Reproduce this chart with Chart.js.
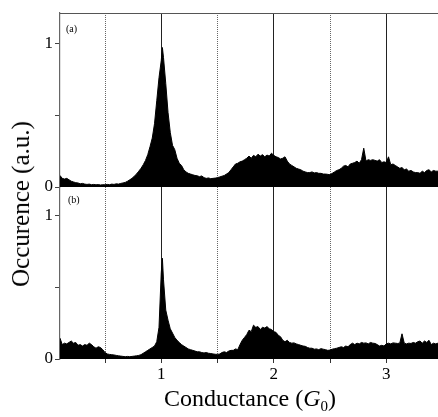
<!DOCTYPE html>
<html>
<head>
<meta charset="utf-8">
<script src="https://cdn.jsdelivr.net/npm/chart.js@4.4.1/dist/chart.umd.min.js"></script>
<style>
  html, body { margin: 0; padding: 0; background: #fff; }
  #wrap { position: relative; width: 438px; height: 417px; overflow: hidden;
          font-family: 'Liberation Serif', 'Times New Roman', serif; color: #000; }
  .panel { position: absolute; left: 0; width: 438px; }
  #pa { top: 0; height: 200px; }
  #pb { top: 187px; height: 230px; }
  .tag { position: absolute; font-size: 10px; }
  .ytitle { position: absolute; left: 21px; top: 204px; transform: translate(-50%, -50%) rotate(-90deg);
            font-size: 25px; white-space: nowrap; }
  .xtitle { position: absolute; left: 250px; top: 400px; transform: translate(-50%, -50%);
            font-size: 24px; white-space: nowrap; }
  .xtitle sub { font-size: 15px; }
</style>
</head>
<body>
<div id="wrap">
  <div class="panel" id="pa"><canvas id="chart-a" width="438" height="200"></canvas></div>
  <div class="panel" id="pb"><canvas id="chart-b" width="438" height="230"></canvas></div>
  <div class="tag" style="left:66px;top:23px">(a)</div>
  <div class="tag" style="left:68px;top:194px">(b)</div>
  <div class="ytitle">Occurence (a.u.)</div>
  <div class="xtitle">Conductance (<i>G</i><sub>0</sub>)</div>
</div>
<script>
// conductance bins (G0)
const conductance = [
  0.10, 0.12, 0.14, 0.16, 0.18, 0.20, 0.22, 0.24, 0.26, 0.28,
  0.30, 0.32, 0.34, 0.36, 0.38, 0.40, 0.42, 0.44, 0.46, 0.48,
  0.50, 0.52, 0.54, 0.56, 0.58, 0.60, 0.62, 0.64, 0.66, 0.68,
  0.70, 0.72, 0.74, 0.76, 0.78, 0.80, 0.82, 0.84, 0.86, 0.88,
  0.90, 0.92, 0.94, 0.96, 0.98, 1.00, 1.01, 1.02, 1.04, 1.06, 1.08,
  1.10, 1.12, 1.14, 1.16, 1.18, 1.20, 1.22, 1.24, 1.26, 1.28,
  1.30, 1.32, 1.34, 1.36, 1.38, 1.40, 1.42, 1.44, 1.46, 1.48,
  1.50, 1.52, 1.54, 1.56, 1.58, 1.60, 1.62, 1.64, 1.66, 1.68,
  1.70, 1.72, 1.74, 1.76, 1.78, 1.80, 1.82, 1.84, 1.86, 1.88,
  1.90, 1.92, 1.94, 1.96, 1.98, 2.00, 2.02, 2.04, 2.06, 2.08,
  2.10, 2.12, 2.14, 2.16, 2.18, 2.20, 2.22, 2.24, 2.26, 2.28,
  2.30, 2.32, 2.34, 2.36, 2.38, 2.40, 2.42, 2.44, 2.46, 2.48,
  2.50, 2.52, 2.54, 2.56, 2.58, 2.60, 2.62, 2.64, 2.66, 2.68,
  2.70, 2.72, 2.74, 2.76, 2.78, 2.80, 2.82, 2.84, 2.86, 2.88,
  2.90, 2.92, 2.94, 2.96, 2.98, 3.00, 3.02, 3.04, 3.06, 3.08,
  3.10, 3.12, 3.14, 3.16, 3.18, 3.20, 3.22, 3.24, 3.26, 3.28,
  3.30, 3.32, 3.34, 3.36, 3.38, 3.40, 3.42, 3.44, 3.46,
];

// panel (a)
const occA = [
  0.08, 0.06, 0.055, 0.06, 0.05, 0.04, 0.035, 0.03, 0.028, 0.022,
  0.025, 0.02, 0.018, 0.02, 0.016, 0.018, 0.015, 0.017, 0.014, 0.016,
  0.015, 0.018, 0.016, 0.02, 0.018, 0.022, 0.02, 0.025, 0.028, 0.032,
  0.04, 0.05, 0.06, 0.075, 0.09, 0.11, 0.13, 0.155, 0.185, 0.225,
  0.28, 0.34, 0.44, 0.6, 0.76, 0.88, 0.97, 0.9, 0.72, 0.52, 0.38,
  0.29, 0.26, 0.2, 0.165, 0.15, 0.12, 0.105, 0.095, 0.09, 0.085,
  0.08, 0.078, 0.072, 0.077, 0.065, 0.06, 0.063, 0.058, 0.06, 0.062,
  0.065, 0.07, 0.075, 0.08, 0.09, 0.1, 0.12, 0.14, 0.16, 0.165,
  0.175, 0.18, 0.19, 0.2, 0.215, 0.2, 0.22, 0.21, 0.228, 0.215,
  0.225, 0.21, 0.222, 0.215, 0.235, 0.22, 0.21, 0.205, 0.195, 0.2,
  0.21, 0.18, 0.16, 0.15, 0.14, 0.13, 0.125, 0.12, 0.11, 0.105,
  0.1, 0.1, 0.105, 0.098, 0.1, 0.095, 0.095, 0.09, 0.09, 0.088,
  0.085, 0.095, 0.105, 0.115, 0.12, 0.13, 0.145, 0.15, 0.14, 0.16,
  0.165, 0.17, 0.18, 0.165, 0.19, 0.27, 0.18, 0.19, 0.185, 0.19,
  0.185, 0.18, 0.19, 0.17, 0.175, 0.17, 0.21, 0.155, 0.16, 0.15,
  0.14, 0.13, 0.135, 0.12, 0.125, 0.11, 0.115, 0.105, 0.1, 0.1,
  0.095, 0.11, 0.1, 0.115, 0.12, 0.105, 0.115, 0.11, 0.11,
];

// panel (b)
const occB = [
  0.145, 0.1, 0.11, 0.105, 0.115, 0.125, 0.11, 0.115, 0.095, 0.1,
  0.09, 0.1, 0.095, 0.11, 0.1, 0.085, 0.075, 0.085, 0.08, 0.065,
  0.045, 0.035, 0.032, 0.03, 0.028, 0.025, 0.022, 0.02, 0.018, 0.016,
  0.018, 0.016, 0.018, 0.02, 0.022, 0.025, 0.03, 0.04, 0.05, 0.06,
  0.07, 0.08, 0.09, 0.12, 0.22, 0.6, 0.7, 0.55, 0.34, 0.27, 0.21,
  0.18, 0.15, 0.13, 0.115, 0.1, 0.09, 0.08, 0.07, 0.065, 0.06,
  0.055, 0.05, 0.05, 0.045, 0.042, 0.045, 0.04, 0.038, 0.035, 0.033,
  0.032, 0.035, 0.045, 0.05, 0.045, 0.055, 0.06, 0.06, 0.07, 0.065,
  0.1, 0.13, 0.15, 0.17, 0.2, 0.19, 0.235, 0.22, 0.225, 0.205,
  0.22, 0.215, 0.225, 0.21, 0.205, 0.19, 0.185, 0.165, 0.155, 0.13,
  0.12, 0.13, 0.115, 0.11, 0.112, 0.105, 0.1, 0.095, 0.09, 0.088,
  0.08, 0.075, 0.075, 0.068, 0.07, 0.065, 0.072, 0.068, 0.065, 0.06,
  0.062, 0.068, 0.072, 0.075, 0.08, 0.085, 0.08, 0.09, 0.085, 0.1,
  0.11, 0.1, 0.11, 0.105, 0.115, 0.11, 0.112, 0.105, 0.115, 0.11,
  0.108, 0.1, 0.09, 0.095, 0.09, 0.105, 0.11, 0.105, 0.112, 0.11,
  0.108, 0.11, 0.175, 0.11, 0.105, 0.11, 0.108, 0.115, 0.11, 0.12,
  0.125, 0.11, 0.125, 0.115, 0.13, 0.1, 0.11, 0.105, 0.11,
];

const xGrid = [0.5, 1, 1.5, 2, 2.5, 3];
const yTicks = [0, 0.5, 1];
const X_MIN = 0.1, X_MAX = 3.46;

const FONT = 'Liberation Serif';
const isHalf = (ctx) => ctx.tick && !Number.isInteger(ctx.tick.value);

// top frame line of the upper panel
const topFrame = {
  id: 'topFrame',
  afterDraw(chart, args, opts) {
    if (!opts.show) return;
    const { ctx, chartArea } = chart;
    ctx.save();
    ctx.strokeStyle = '#555';
    ctx.lineWidth = 1.2;
    ctx.beginPath();
    ctx.moveTo(chartArea.left, chartArea.top + 0.5);
    ctx.lineTo(chartArea.right, chartArea.top + 0.5);
    ctx.stroke();
    ctx.restore();
  },
};

function makePanel(id, values, yMax, bottom) {
  return new Chart(document.getElementById(id), {
    type: 'line',
    data: {
      datasets: [{
        data: conductance.map((x, i) => ({ x, y: values[i] })),
        borderColor: '#000',
        backgroundColor: '#000',
        borderWidth: 1,
        pointRadius: 0,
        fill: 'origin',
        tension: 0,
      }],
    },
    plugins: [topFrame],
    options: {
      responsive: false,
      animation: false,
      layout: { padding: { top: bottom ? 0 : 13, right: 0, left: 0, bottom: 0 } },
      plugins: {
        legend: { display: false },
        tooltip: { enabled: false },
        topFrame: { show: !bottom },
      },
      scales: {
        x: {
          type: 'linear',
          min: X_MIN,
          max: X_MAX,
          afterBuildTicks: (s) => { s.ticks = xGrid.map((v) => ({ value: v })); },
          afterFit: (s) => {
            s.height = bottom ? 58 : 13;
            s.paddingLeft = 0; s.paddingRight = 0;
          },
          border: {
            display: false,
            dash: (ctx) => (isHalf(ctx) ? [1, 1] : []),
          },
          grid: {
            drawOnChartArea: true,
            drawTicks: bottom,
            tickLength: 4,
            color: (ctx) => (isHalf(ctx) ? '#666' : '#222'),
            tickColor: '#333',
            lineWidth: 1,
          },
          ticks: {
            display: bottom,
            padding: 1,
            color: '#000',
            font: { family: FONT, size: 17 },
            maxRotation: 0,
            callback: (v) => (Number.isInteger(v) ? v : ''),
          },
        },
        y: {
          min: 0,
          max: yMax,
          afterBuildTicks: (s) => { s.ticks = yTicks.map((v) => ({ value: v })); },
          afterFit: (s) => { s.width = 60; s.paddingTop = 0; s.paddingBottom = 0; },
          border: { display: true, color: '#666', width: 1.2 },
          grid: {
            drawOnChartArea: false,
            drawTicks: true,
            tickLength: 5,
            color: '#444',
          },
          ticks: {
            padding: 2,
            color: '#000',
            font: { family: FONT, size: 17 },
            callback: (v) => (v === 0.5 ? '' : v),
          },
        },
      },
    },
  });
}

makePanel('chart-a', occA, 1.21, false);
makePanel('chart-b', occB, 1.195, true);
</script>
</body>
</html>
